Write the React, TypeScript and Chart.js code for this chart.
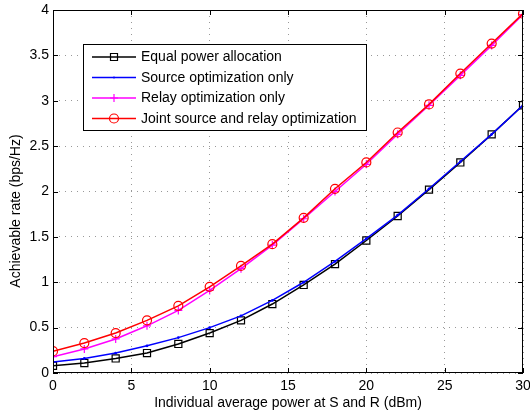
import { useEffect, useRef } from 'react';
import { Chart, registerables } from 'chart.js';

Chart.register(...registerables);

const xValues = [0, 2, 4, 6, 8, 10, 12, 14, 16, 18, 20, 22, 24, 26, 28, 30];
const equalPower = [0.08, 0.11, 0.16, 0.22, 0.32, 0.44, 0.58, 0.76, 0.97, 1.2, 1.46, 1.73, 2.02, 2.32, 2.63, 2.95];
const sourceOpt = [0.12, 0.16, 0.22, 0.3, 0.39, 0.5, 0.63, 0.8, 1.0, 1.23, 1.48, 1.74, 2.03, 2.33, 2.63, 2.95];
const relayOpt = [0.18, 0.265, 0.375, 0.52, 0.69, 0.91, 1.15, 1.41, 1.7, 2.0, 2.3, 2.63, 2.95, 3.28, 3.61, 3.95];
const jointOpt = [0.24, 0.33, 0.44, 0.58, 0.74, 0.95, 1.18, 1.42, 1.71, 2.03, 2.32, 2.65, 2.96, 3.3, 3.63, 3.96];

const seriesLabels = [
  'Equal power allocation',
  'Source optimization only',
  'Relay optimization only',
  'Joint source and relay optimization',
];
const xTitle = 'Individual average power at S and R (dBm)';
const yTitle = 'Achievable rate (bps/Hz)';

const FONT = '"Liberation Sans", Arial, Helvetica, sans-serif';

const toPoints = (ys: number[]) => xValues.map((x, i) => ({ x, y: ys[i] }));

const styles = [
  { color: '#000000', marker: 'rect' },
  { color: '#0000ff', marker: 'dot' },
  { color: '#ff00ff', marker: 'cross' },
  { color: '#ff0000', marker: 'circle' },
];

function drawMarker(ctx: CanvasRenderingContext2D, kind: string, x: number, y: number, color: string) {
  ctx.save();
  ctx.strokeStyle = color;
  ctx.fillStyle = color;
  ctx.lineWidth = 1.2;
  ctx.beginPath();
  if (kind === 'rect') {
    ctx.rect(x - 3.5, y - 3.5, 7, 7);
    ctx.stroke();
  } else if (kind === 'circle') {
    ctx.arc(x, y, 4.5, 0, Math.PI * 2);
    ctx.stroke();
  } else if (kind === 'cross') {
    ctx.moveTo(x - 4, y);
    ctx.lineTo(x + 4, y);
    ctx.moveTo(x, y - 4);
    ctx.lineTo(x, y + 4);
    ctx.stroke();
  } else {
    ctx.arc(x, y, 1, 0, Math.PI * 2);
    ctx.fill();
  }
  ctx.restore();
}

const decorPlugin = {
  id: 'matlabDecor',
  afterDraw(chart: any) {
    const { ctx, chartArea: a, scales } = chart;
    const xs = scales.x;
    const ys = scales.y;
    ctx.save();
    ctx.setLineDash([]);
    ctx.strokeStyle = '#000';
    ctx.lineWidth = 1;
    ctx.strokeRect(Math.round(a.left) + 0.5, Math.round(a.top) + 0.5, Math.round(a.right - a.left) - 1, Math.round(a.bottom - a.top) - 1);
    ctx.beginPath();
    xs.ticks.forEach((t: any) => {
      const px = Math.round(xs.getPixelForValue(t.value)) + 0.5;
      ctx.moveTo(px, a.bottom);
      ctx.lineTo(px, a.bottom - 5);
      ctx.moveTo(px, a.top);
      ctx.lineTo(px, a.top + 5);
    });
    ys.ticks.forEach((t: any) => {
      const py = Math.round(ys.getPixelForValue(t.value)) + 0.5;
      ctx.moveTo(a.left, py);
      ctx.lineTo(a.left + 5, py);
      ctx.moveTo(a.right, py);
      ctx.lineTo(a.right - 5, py);
    });
    ctx.stroke();

    const lx = 83, ly = 44, lw = 283, lh = 86;
    ctx.fillStyle = '#fff';
    ctx.fillRect(lx, ly, lw, lh);
    ctx.strokeStyle = '#000';
    ctx.strokeRect(lx + 0.5, ly + 0.5, lw, lh);
    const rowY = [57, 77.5, 98, 118.5];
    ctx.font = `14px ${FONT}`;
    ctx.textAlign = 'left';
    ctx.textBaseline = 'middle';
    seriesLabels.forEach((label, i) => {
      const y = rowY[i];
      const st = styles[i];
      ctx.strokeStyle = st.color;
      ctx.lineWidth = 1.5;
      ctx.beginPath();
      ctx.moveTo(92, y);
      ctx.lineTo(136, y);
      ctx.stroke();
      drawMarker(ctx, st.marker, 114, y, st.color);
      ctx.fillStyle = '#000';
      ctx.fillText(label, 141, y + 0.5);
    });

    ctx.fillStyle = '#000';
    ctx.font = `14px ${FONT}`;
    ctx.textAlign = 'center';
    ctx.textBaseline = 'middle';
    ctx.fillText(xTitle, (a.left + a.right) / 2, 403);
    ctx.translate(16, 211);
    ctx.rotate(-Math.PI / 2);
    ctx.fillText(yTitle, 0, 0);
    ctx.restore();
  },
};

export default function App() {
  const ref = useRef<HTMLCanvasElement | null>(null);

  useEffect(() => {
    if (!ref.current) return;
    const mk = (i: number, data: number[], extra: any) => ({
      label: seriesLabels[i],
      data: toPoints(data),
      borderColor: styles[i].color,
      backgroundColor: 'transparent',
      pointBorderColor: styles[i].color,
      pointBackgroundColor: 'transparent',
      borderWidth: 1.5,
      pointBorderWidth: 1.2,
      tension: 0,
      ...extra,
    });
    const chart = new Chart(ref.current, {
      type: 'line',
      data: {
        datasets: [
          mk(0, equalPower, { pointStyle: 'rect', pointRadius: 5, order: 4 }),
          mk(1, sourceOpt, { pointStyle: 'circle', pointRadius: 0.8, pointBackgroundColor: '#0000ff', order: 3 }),
          mk(2, relayOpt, { pointStyle: 'cross', pointRadius: 4, order: 2 }),
          mk(3, jointOpt, { pointStyle: 'circle', pointRadius: 4.5, order: 1 }),
        ],
      },
      options: {
        animation: false,
        responsive: true,
        maintainAspectRatio: false,
        layout: { padding: { top: 10, right: 7, left: 0, bottom: 0 } },
        plugins: { legend: { display: false }, tooltip: { enabled: false } },
        events: [],
        scales: {
          x: {
            type: 'linear',
            min: 0,
            max: 30,
            afterFit: (s: any) => {
              s.height = 38;
              s.paddingRight = 0;
              s.paddingLeft = 0;
            },
            ticks: { stepSize: 5, color: '#000', font: { family: FONT, size: 14 }, padding: 5, maxRotation: 0 },
            grid: { color: 'rgba(0,0,0,0.4)', lineWidth: 1, drawTicks: false },
            border: { display: false, dash: [1, 5] },
          },
          y: {
            type: 'linear',
            min: 0,
            max: 4,
            afterFit: (s: any) => {
              s.width = 53;
              s.paddingTop = 0;
              s.paddingBottom = 0;
            },
            ticks: {
              stepSize: 0.5,
              color: '#000',
              font: { family: FONT, size: 14 },
              padding: 4,
              callback: (v: any) => String(Number(v)),
            },
            grid: { color: 'rgba(0,0,0,0.4)', lineWidth: 1, drawTicks: false },
            border: { display: false, dash: [1, 5] },
          },
        },
      },
      plugins: [decorPlugin],
    });
    return () => chart.destroy();
  }, []);

  return (
    <div style={{ position: 'absolute', left: 0, top: 0, width: 530, height: 411, background: '#fff' }}>
      <canvas ref={ref} />
    </div>
  );
}
